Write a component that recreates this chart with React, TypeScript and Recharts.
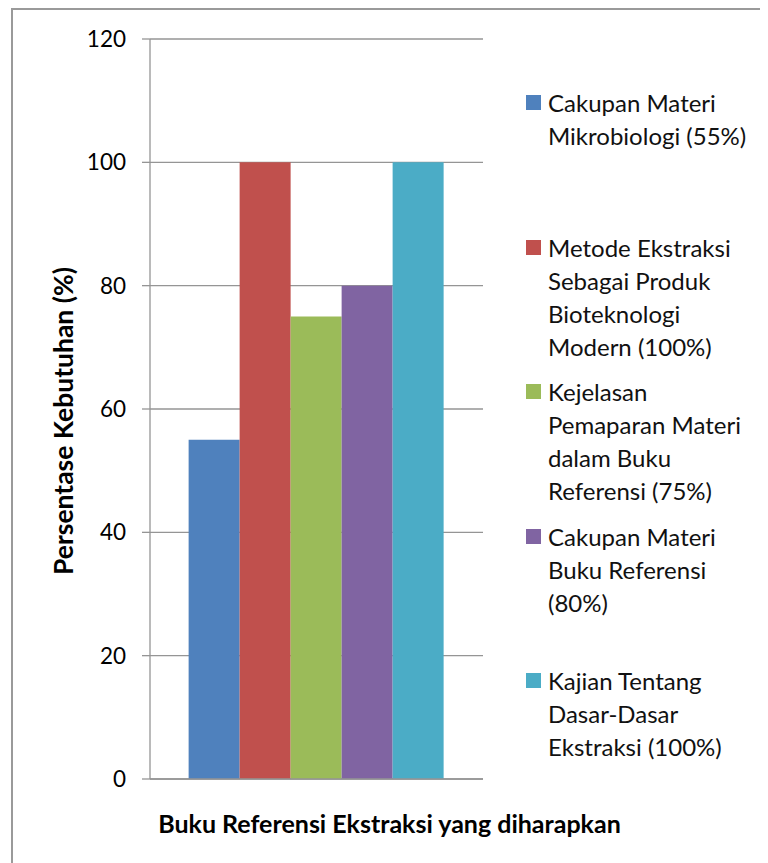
import * as React from 'react'
import { BarChart, Bar, XAxis, YAxis, CartesianGrid, Legend, Label } from 'recharts'

const categories = ['Buku Referensi']
const seriesKeys = ['s1', 's2', 's3', 's4', 's5']
const seriesNames = [
    'Cakupan Materi Mikrobiologi (55%)',
    'Metode Ekstraksi Sebagai Produk Bioteknologi Modern (100%)',
    'Kejelasan Pemaparan Materi dalam Buku Referensi (75%)',
    'Cakupan Materi Buku Referensi (80%)',
    'Kajian Tentang Dasar-Dasar Ekstraksi (100%)',
]
const legendLines = [
    ['Cakupan Materi', 'Mikrobiologi (55%)'],
    ['Metode Ekstraksi', 'Sebagai Produk', 'Bioteknologi', 'Modern (100%)'],
    ['Kejelasan', 'Pemaparan Materi', 'dalam Buku', 'Referensi (75%)'],
    ['Cakupan Materi', 'Buku Referensi', '(80%)'],
    ['Kajian Tentang', 'Dasar-Dasar', 'Ekstraksi (100%)'],
]
const seriesValues = [55, 100, 75, 80, 100]
const colors = ['#4F81BD', '#C0504D', '#9BBB59', '#8064A2', '#4BACC6']
const yTicks = [0, 20, 40, 60, 80, 100, 120]

const FONT = 'Lato, "Open Sans", sans-serif'
const GRAY = '#959595'
const LEGEND_W = 240

const rows = categories.map(c => {
    const r: Record<string, any> = { name: c }
    seriesKeys.forEach((k, i) => { r[k] = seriesValues[i] })
    return r
})

function LegendBox() {
    return (
        <div style={{ fontFamily: FONT, fontSize: 24, lineHeight: '33px', color: '#111' }}>
            {legendLines.map((lines, i) => (
                <div key={i} style={{ position: 'relative', height: 144.5, paddingLeft: 22 }}>
                    <span style={{ position: 'absolute', left: 0, top: 9, width: 15, height: 15, background: colors[i] }} />
                    {lines.map((l, j) => <div key={j} style={{ whiteSpace: 'nowrap' }}>{l}</div>)}
                </div>
            ))}
        </div>
    )
}

function YLabel(props: any) {
    const vb = props.viewBox
    const x = vb.x + 55
    const y = vb.y + vb.height / 2 + 12
    return (
        <text x={x} y={y} transform={`rotate(-90 ${x} ${y})`} textAnchor="middle" dominantBaseline="central"
            style={{ fontFamily: FONT, fontSize: 26.5, fontWeight: 700, fill: '#000' }}>
            Persentase Kebutuhan (%)
        </text>
    )
}

export default function App() {
    return (
        <div style={{ position: 'relative', width: 760, height: 855, overflow: 'hidden', background: '#fff' }}>
            <div style={{ position: 'absolute', left: 3, top: 0, width: 900, height: 1000, borderLeft: '2px solid #9a9a9a', borderTop: '2px solid #9a9a9a' }} />
            <BarChart width={760} height={855} data={rows} margin={{ top: 31, right: 285 - LEGEND_W, bottom: 24, left: 0 }}
                barCategoryGap="11.6%" barGap={0}>
                <CartesianGrid vertical={false} stroke={GRAY} strokeWidth={1.3} />
                <XAxis dataKey="name" hide height={0} />
                <XAxis xAxisId="edges" type="number" domain={[0, 1]} ticks={[0, 1]} tick={false} tickSize={8}
                    stroke={GRAY} strokeWidth={1.3} height={60}>
                    <Label value="Buku Referensi Ekstraksi yang diharapkan" position="insideBottom" offset={6} dx={73}
                        style={{ fontFamily: FONT, fontSize: 25, fontWeight: 700, fill: '#000' }} />
                </XAxis>
                <YAxis domain={[0, 120]} ticks={yTicks} width={142} tickSize={8} tickMargin={16} stroke={GRAY} strokeWidth={1.3}
                    tick={{ fontFamily: FONT, fontSize: 22.5, fill: '#000' }}>
                    <Label content={<YLabel />} />
                </YAxis>
                <Legend layout="vertical" align="right" verticalAlign="top" content={<LegendBox />}
                    wrapperStyle={{ left: 518, top: 78, width: LEGEND_W }} />
                {seriesKeys.map((k, i) => (
                    <Bar key={k} dataKey={k} name={seriesNames[i]} fill={colors[i]} isAnimationActive={false} />
                ))}
            </BarChart>
        </div>
    )
}
